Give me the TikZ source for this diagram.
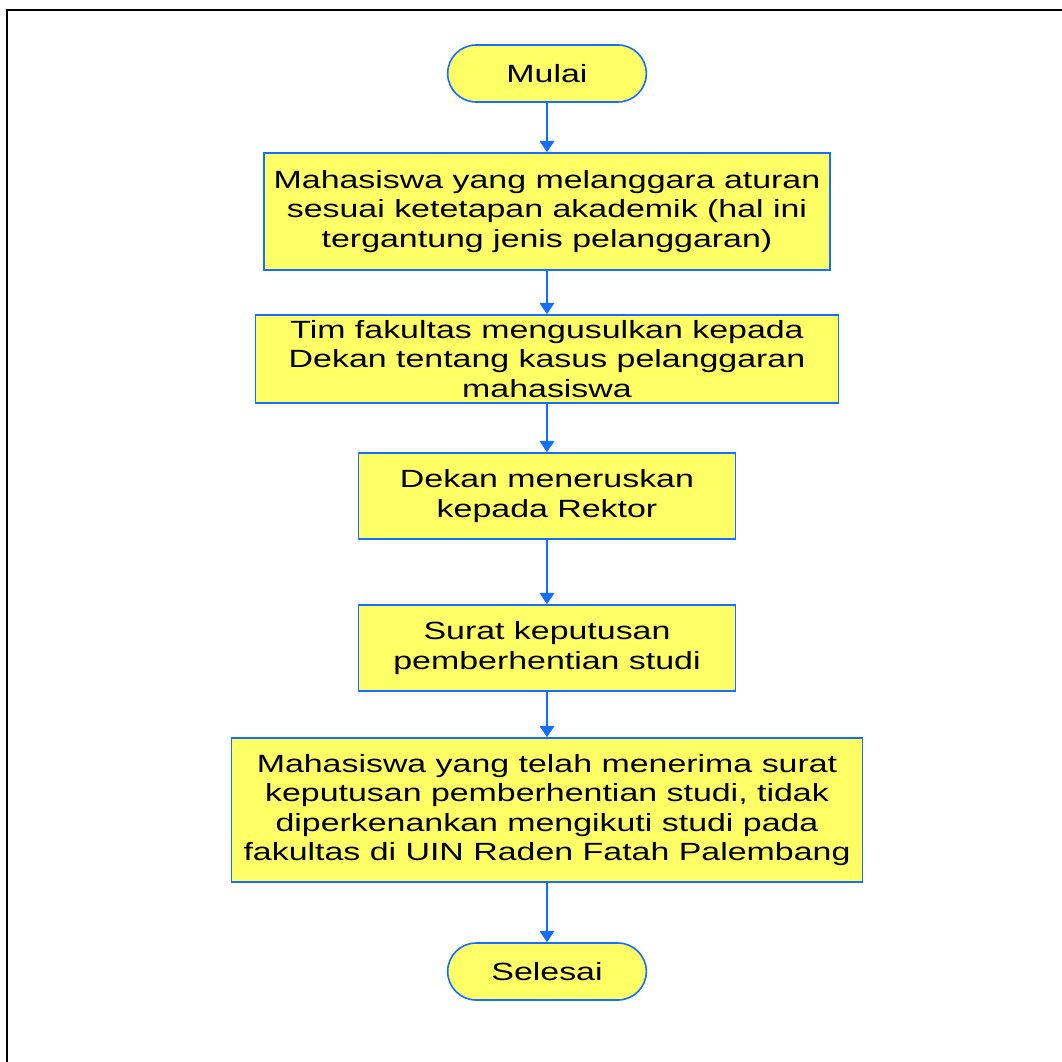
\documentclass[tikz,border=0pt]{standalone}
\usepackage{fontspec}
\setmainfont{Liberation Sans}[FakeStretch=1.36]
\usetikzlibrary{shapes.misc,arrows.meta}
\definecolor{kuning}{RGB}{255,255,102}
\definecolor{biru}{RGB}{20,110,255}

\begin{document}
\begin{tikzpicture}[x=0.75pt,y=-0.75pt,
  proses/.style={draw=biru,fill=kuning,line width=1.2pt,align=center,inner sep=0pt,
    font=\fontsize{18.7}{22.2}\selectfont},
  terminal/.style={proses,rounded rectangle,minimum width=149pt,minimum height=42.75pt},
  panah/.style={draw=biru,line width=1.2pt,-{Triangle[width=11pt,length=8.5pt]}}]
\useasboundingbox (0,0) rectangle (1062,1062);
\clip (0,0) rectangle (1062,1062);
\fill[white] (0,0) rectangle (1062,1062);
\draw[line width=1.3pt] (7,10) rectangle (1090,1090);

\node[terminal] (mulai) at (547,73.5) {Mulai};
\node[proses,minimum width=424.5pt,minimum height=87.75pt] (langgar) at (547,211.5)
  {Mahasiswa yang melanggara aturan\\sesuai ketetapan akademik (hal ini\\tergantung jenis pelanggaran)};
\node[proses,minimum width=437.25pt,minimum height=66pt] (usul) at (547,359)
  {Tim fakultas mengusulkan kepada\\Dekan tentang kasus pelanggaran\\mahasiswa};
\node[proses,minimum width=282.75pt,minimum height=64.5pt] (dekan) at (547,496)
  {Dekan meneruskan\\kepada Rektor};
\node[proses,minimum width=282.75pt,minimum height=64.5pt] (surat) at (547,648)
  {Surat keputusan\\pemberhentian studi};
\node[proses,minimum width=473.25pt,minimum height=108pt] (terima) at (547,810)
  {Mahasiswa yang telah menerima surat\\keputusan pemberhentian studi, tidak\\diperkenankan mengikuti studi pada\\fakultas di UIN Raden Fatah Palembang};
\node[terminal] (selesai) at (547,971.5) {Selesai};

\draw[panah] (mulai) -- (langgar);
\draw[panah] (langgar) -- (usul);
\draw[panah] (usul) -- (dekan);
\draw[panah] (dekan) -- (surat);
\draw[panah] (surat) -- (terima);
\draw[panah] (terima) -- (selesai);
\end{tikzpicture}
\end{document}
